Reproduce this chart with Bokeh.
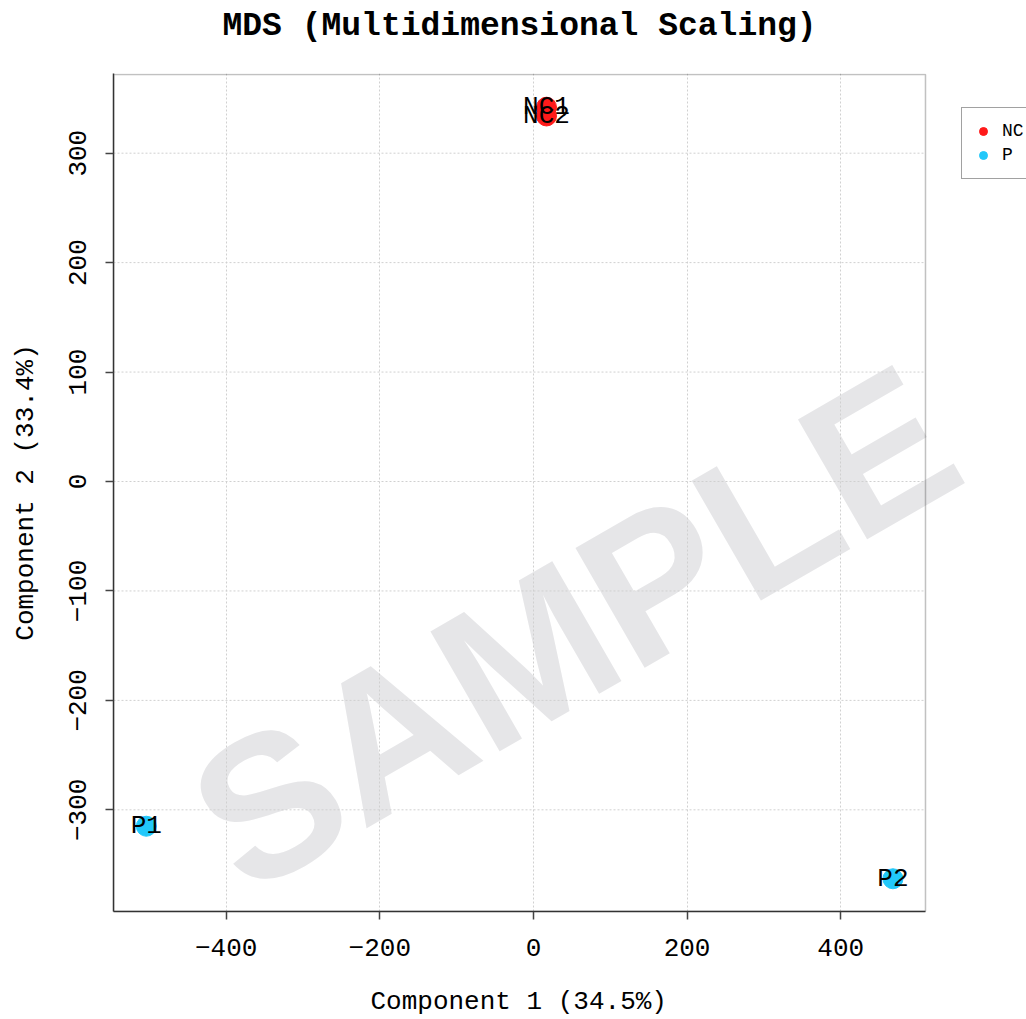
import math
from bokeh.plotting import figure
from bokeh.models import (Range1d, FixedTicker, Label, Legend, LegendItem,
                          ColumnDataSource, Title, BoxAnnotation)
from bokeh.embed import file_html
from bokeh.resources import INLINE
from bokeh.core.properties import value

# ---- data ----
sample_names = ["NC1", "NC2", "P1", "P2"]
groups = ["NC", "NC", "P", "P"]
comp1 = [17, 17, -504, 468]
comp2 = [342, 334, -315, -363]
group_names = ["NC", "P"]
group_colors = ["#FF1A1A", "#22C8FA"]
x_ticks = [-400, -200, 0, 200, 400]
y_ticks = [-300, -200, -100, 0, 100, 200, 300]
title_text = "MDS (Multidimensional Scaling)"
x_label = "Component 1 (34.5%)"
y_label = "Component 2 (33.4%)"
watermark = "SAMPLE"

MONO = "Liberation Mono"

# plotting box (the frame extends to the right page edge so the legend and
# watermark can sit outside the box, as in the original)
X_START, BOX_RIGHT, X_END = -546.7, 510.4, 641.9
Y_START, BOX_TOP, Y_END = -392.9, 371.9, 372.8

p = figure(width=1026, height=1019, output_backend="svg", toolbar_location=None,
           x_range=Range1d(X_START, X_END), y_range=Range1d(Y_START, Y_END),
           min_border_left=113, min_border_right=0, min_border_top=73,
           min_border_bottom=108)

p.background_fill_color = "white"
p.border_fill_color = "white"
p.outline_line_color = None
p.title.visible = False

# titles: a blank spacer next to the frame, then the real title
p.add_layout(Title(text=" ", text_font_size="10px", standoff=16), "above")
p.add_layout(Title(text=title_text, text_font=MONO, text_font_size="33px",
                   text_font_style="bold", text_color="black", align="left",
                   offset=109, standoff=0), "above")

# watermark, drawn beneath the grid
wm = Label(x=53, y=-134, text=watermark, angle=math.radians(30),
           text_align="center", text_baseline="alphabetic",
           text_font="Liberation Sans", text_font_style="bold",
           text_font_size="201px", text_color="#E6E6E8", level="image")
p.add_layout(wm)

# axes
for ax, ticks in ((p.xaxis[0], x_ticks), (p.yaxis[0], y_ticks)):
    ax.ticker = FixedTicker(ticks=ticks, minor_ticks=[])
    ax.major_label_text_font = MONO
    ax.major_label_text_font_size = "26px"
    ax.major_label_text_color = "black"
    ax.major_tick_out = 8
    ax.major_tick_in = 0
    ax.minor_tick_out = 0
    ax.minor_tick_in = 0
    ax.major_tick_line_color = "#444444"
    ax.major_tick_line_width = 1.5
    ax.axis_line_color = "#333333"
    ax.axis_line_width = 1.5
    ax.major_label_standoff = 19
p.xaxis[0].bounds = (X_START, BOX_RIGHT)
p.xaxis[0].axis_label = None
yax = p.yaxis[0]
yax.axis_label = y_label
yax.axis_label_text_font = MONO
yax.axis_label_text_font_size = "26px"
yax.axis_label_text_font_style = "normal"
yax.axis_label_text_color = "black"
yax.axis_label_standoff = 26
yax.major_label_orientation = "vertical"

# x-axis title, centred under the box
p.add_layout(Title(text=" ", text_font_size="10px", standoff=13), "below")
p.add_layout(Title(text=x_label, text_font=MONO, text_font_size="26px",
                   text_font_style="normal", text_color="black", align="left",
                   offset=257, standoff=0), "below")

# grid: vertical lines via Grid, horizontal lines limited to the box
p.xgrid[0].grid_line_color = "#d0d0d0"
p.xgrid[0].grid_line_dash = "2 2"
p.xgrid[0].grid_line_width = 1
p.ygrid[0].visible = False
n = len(y_ticks)
p.segment(x0=[X_START] * n, y0=y_ticks, x1=[BOX_RIGHT] * n, y1=y_ticks,
          line_color="#d0d0d0", line_dash="2 2", line_width=1)

# box
p.add_layout(BoxAnnotation(left=X_START, right=BOX_RIGHT, bottom=Y_START, top=BOX_TOP,
                           fill_alpha=0, line_color="#333333", line_width=1.5,
                           level="underlay"))

# points
renderers = {}
for g, c in zip(group_names, group_colors):
    idx = [i for i, gg in enumerate(groups) if gg == g]
    src = ColumnDataSource(dict(x=[comp1[i] for i in idx],
                                y=[comp2[i] for i in idx],
                                name=[sample_names[i] for i in idx]))
    r = p.scatter("x", "y", source=src, size=20, fill_color=c, line_color=c)
    renderers[g] = r

lab_src = ColumnDataSource(dict(x=comp1, y=comp2, t=sample_names))
p.text("x", "y", text="t", source=lab_src, text_font=value(MONO),
       text_font_size="26px", text_align="center", text_baseline="middle",
       text_color="black")

legend = Legend(items=[LegendItem(label=g, renderers=[renderers[g]]) for g in group_names],
                location=(848, 732), orientation="vertical",
                label_text_font=MONO, label_text_font_size="18px",
                label_text_color="black",
                glyph_width=20, glyph_height=24, label_height=24,
                label_standoff=9, padding=11, spacing=0, margin=0,
                border_line_color="#444444", border_line_width=1.5,
                background_fill_color="white", background_fill_alpha=1)
p.add_layout(legend)

open("out.html", "w").write(file_html(p, INLINE))
